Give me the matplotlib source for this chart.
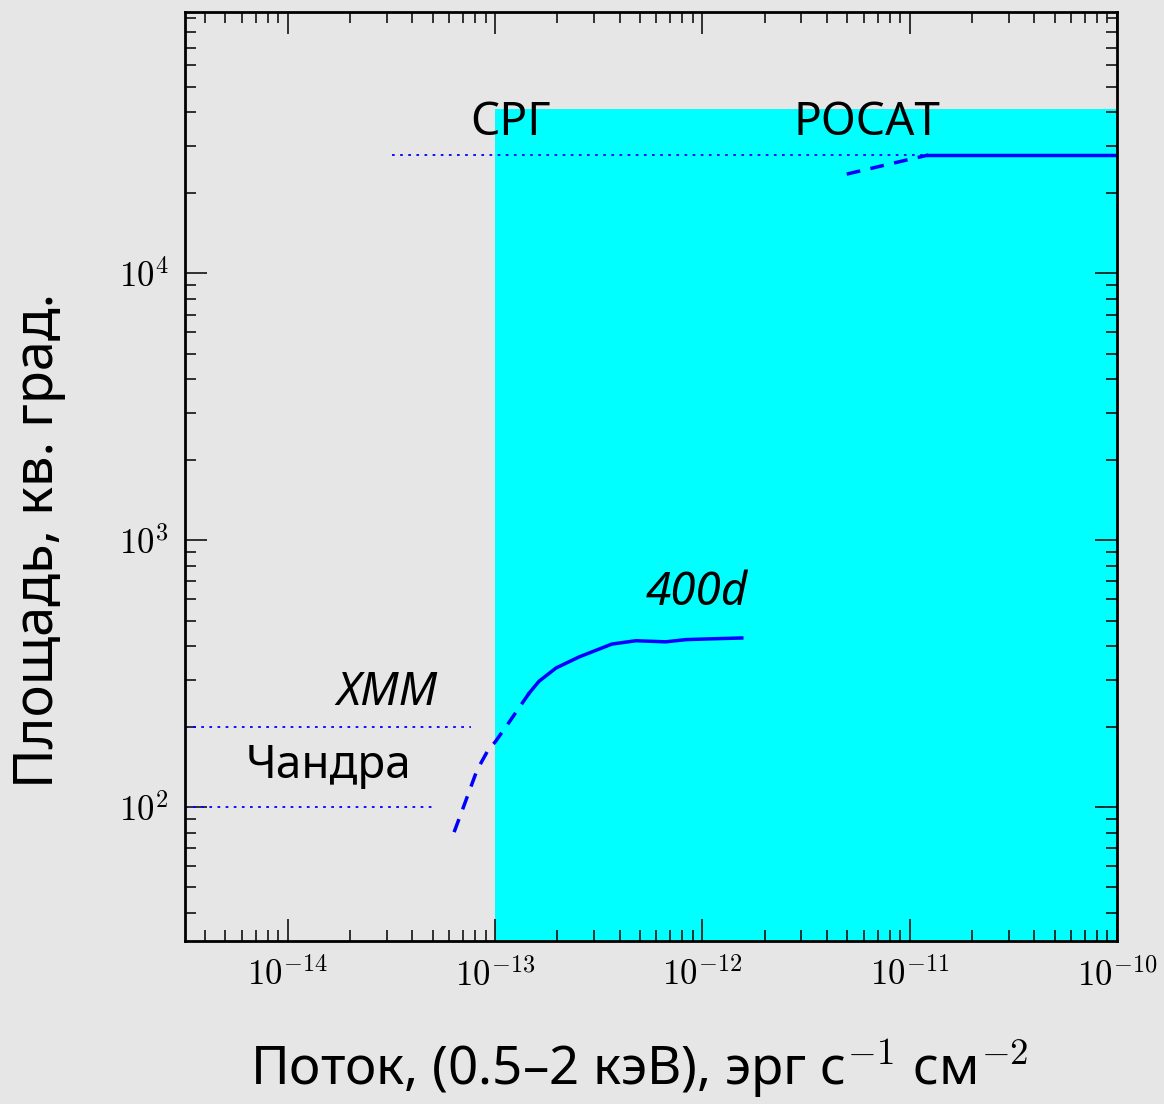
import matplotlib
matplotlib.use("Agg")
import matplotlib.pyplot as plt
from matplotlib.ticker import FixedLocator, FixedFormatter, LogLocator, NullFormatter

plt.rcParams['mathtext.fontset'] = 'cm'
LABEL_FONT = ['Noto Sans', 'DejaVu Sans']

# ---- data ----
x_ticks = [1e-14, 1e-13, 1e-12, 1e-11, 1e-10]
x_ticklabels = [r'$10^{-14}$', r'$10^{-13}$', r'$10^{-12}$', r'$10^{-11}$', r'$10^{-10}$']
y_ticks = [1e2, 1e3, 1e4]
y_ticklabels = [r'$10^{2}$', r'$10^{3}$', r'$10^{4}$']

srg_flux = [1e-13, 1e-10]
srg_area = 41253

d400_dash_x = [6.35e-14, 7.1e-14, 8.19e-14, 9.36e-14, 1.0e-13, 1.17e-13, 1.46e-13]
d400_dash_y = [80.6, 101.7, 137.6, 166, 175, 208, 267]
d400_solid_x = [1.46e-13, 1.63e-13, 1.97e-13, 2.54e-13, 3.0e-13, 3.66e-13, 4.78e-13, 6.66e-13, 8.32e-13, 1.11e-12, 1.55e-12]
d400_solid_y = [267, 296, 332, 365, 384, 408, 420, 416, 424, 427, 430]

rosat_dash_x = [4.97e-12, 9.6e-12, 1.23e-11]
rosat_dash_y = [2.35e4, 2.65e4, 2.77e4]
rosat_solid_x = [1.23e-11, 1e-10]
rosat_solid_y = [2.77e4, 2.77e4]
rosat_dot_x = [3.2e-14, 1.23e-11]
rosat_dot_y = [2.77e4, 2.77e4]

xmm_x = [3.2e-15, 7.7e-14]
xmm_y = [200, 200]
chandra_x = [3.2e-15, 5.0e-14]
chandra_y = [100, 100]

xlim = (3.2e-15, 1e-10)
ylim = (31.5, 9.5e4)

# ---- figure ----
bg = '#e6e6e6'
W, H = 1164, 1104
fig = plt.figure(figsize=(W / 100, H / 100), dpi=100, facecolor=bg)
ax = fig.add_axes([0.159, 0.1476, 0.8006, 0.8414], facecolor=bg)
ax.set_xscale('log')
ax.set_yscale('log')
ax.set_xlim(*xlim)
ax.set_ylim(*ylim)

ax.fill_between(srg_flux, ylim[0], srg_area, color='#00ffff', lw=0, zorder=1)

ax.plot(rosat_dot_x, rosat_dot_y, color='blue', lw=1.3, ls=(0, (1.5, 3)), zorder=3)
ax.plot(xmm_x, xmm_y, color='blue', lw=1.3, ls=(0, (1.5, 3)), zorder=3)
ax.plot(chandra_x, chandra_y, color='blue', lw=1.3, ls=(0, (1.5, 3)), zorder=3)

ax.plot(d400_dash_x, d400_dash_y, color='blue', lw=2.5, ls=(0, (4, 3)), zorder=4)
ax.plot(d400_solid_x, d400_solid_y, color='blue', lw=2.5, zorder=4, solid_joinstyle='round')
ax.plot(rosat_dash_x, rosat_dash_y, color='blue', lw=2.5, ls=(0, (4, 3)), zorder=4)
ax.plot(rosat_solid_x, rosat_solid_y, color='blue', lw=2.5, zorder=4)

# labels
ax.text(1.19e-13, 3.3e4, 'СРГ', family=LABEL_FONT, fontsize=33, ha='center', va='baseline')
ax.text(6.2e-12, 3.3e4, 'РОСАТ', family=LABEL_FONT, fontsize=33, ha='center', va='baseline')
ax.text(9.4e-13, 571, '400d', family=LABEL_FONT, fontsize=33, style='italic', ha='center', va='baseline')
ax.text(3.02e-14, 241, 'XMM', family=LABEL_FONT, fontsize=33, style='italic', ha='center', va='baseline')
ax.text(1.58e-14, 128, 'Чандра', family=LABEL_FONT, fontsize=33, ha='center', va='baseline')

# ticks
ax.xaxis.set_major_locator(FixedLocator(x_ticks))
ax.xaxis.set_major_formatter(FixedFormatter(x_ticklabels))
ax.yaxis.set_major_locator(FixedLocator(y_ticks))
ax.yaxis.set_major_formatter(FixedFormatter(y_ticklabels))
ax.xaxis.set_minor_locator(LogLocator(base=10, subs=range(2, 10), numticks=50))
ax.yaxis.set_minor_locator(LogLocator(base=10, subs=range(2, 10), numticks=50))
ax.xaxis.set_minor_formatter(NullFormatter())
ax.yaxis.set_minor_formatter(NullFormatter())
ax.tick_params(which='both', direction='in', top=True, right=True, color='#222222', zorder=6)
ax.tick_params(which='major', length=16, width=1.3, labelsize=25, pad=12)
ax.tick_params(which='minor', length=8, width=1.3)
for s in ax.spines.values():
    s.set_linewidth(2)
    s.set_zorder(6)

fig.text(39 / W, 1 - 540 / H, 'Площадь, кв. град.', family=LABEL_FONT, fontsize=39,
         rotation=90, ha='center', va='center')
fig.text(639 / W, 19 / H, 'Поток, (0.5–2 кэВ), эрг с$^{-1}$ см$^{-2}$', family=LABEL_FONT,
         fontsize=38, ha='center', va='baseline')

fig.savefig('out.png', dpi=100, facecolor=bg)
